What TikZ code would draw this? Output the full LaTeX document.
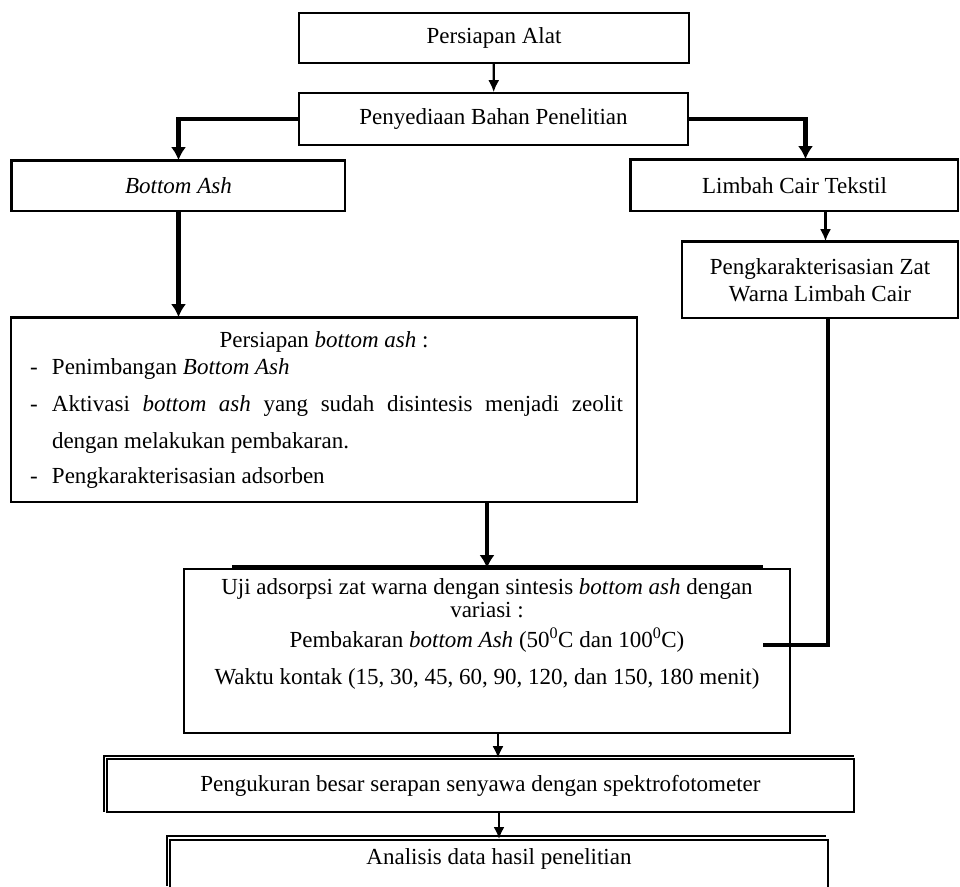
\documentclass[tikz,border=0pt]{standalone}
\usepackage{fontspec}
\setmainfont{Liberation Serif}
\usetikzlibrary{arrows.meta}

\begin{document}
\begin{tikzpicture}[x=1pt,y=-1pt,
  font=\fontsize{23}{27}\selectfont,
  box/.style={draw,line width=1.6pt,inner sep=0pt,align=center},
  arr/.style={-{Latex[length=12pt,width=11pt]},line width=2.2pt},
  fatarr/.style={-{Latex[length=13pt,width=15pt]},line width=4.2pt},
  rim/.style={line width=1.2pt}]
  \useasboundingbox (0,0) rectangle (960,886);
  \clip (0,0) rectangle (960,886);

  % Persiapan dan bahan
  \node[box,minimum width=390pt,minimum height=50pt] (alat) at (494,38)
    {Persiapan Alat};
  \node[box,minimum width=389pt,minimum height=52pt] (bahan) at (493.5,119)
    {Penyediaan Bahan Penelitian};
  \node[box,minimum width=333pt,minimum height=50pt] (ash) at (178.5,186)
    {\textit{Bottom Ash}};
  \node[box,minimum width=327pt,minimum height=51pt] (limbah) at (794.5,185.5)
    {Limbah Cair Tekstil};
  \node[box,minimum width=276pt,minimum height=76pt] (karakter) at (820,280)
    {Pengkarakterisasian Zat\\Warna Limbah Cair};

  % Persiapan bottom ash
  \node[box,minimum width=626pt,minimum height=184pt,align=left] (persiapan)
    at (324,410) {%
    \makebox[622pt]{Persiapan \textit{bottom ash} :}\\
    \hspace*{17pt}\makebox[22pt][l]{-}Penimbangan \textit{Bottom Ash}\\[10pt]
    \hspace*{17pt}\makebox[22pt][l]{-}\makebox[571pt][s]{Aktivasi
      \textit{bottom ash} yang sudah disintesis menjadi zeolit}\\[10pt]
    \hspace*{39pt}dengan melakukan pembakaran.\\[8pt]
    \hspace*{17pt}\makebox[22pt][l]{-}Pengkarakterisasian adsorben};

  % Uji adsorpsi
  \node[box,minimum width=606pt,minimum height=164pt] (uji) at (487,651)
    {Uji adsorpsi zat warna dengan sintesis \textit{bottom ash} dengan\\[-4pt]
     variasi :\\[3pt]
     Pembakaran \textit{bottom Ash} (50\textsuperscript{0}C dan
     100\textsuperscript{0}C)\\[10pt]
     Waktu kontak (15, 30, 45, 60, 90, 120, dan 150, 180 menit)\\[11pt]\mbox{}};
  \coordinate (masuk) at (763,645);

  % Pengukuran dan analisis
  \node[box,minimum width=747pt,minimum height=53pt] (ukur) at (480.5,785.5)
    {Pengukuran besar serapan senyawa dengan spektrofotometer};
  \node[box,anchor=north,minimum width=658pt,minimum height=70pt] (analisis)
    at (499,839) {Analisis data hasil penelitian\\[10pt]\mbox{}};

  % tepi ganda
  \draw[line width=3pt] (ash.south west) |- (ash.north east);
  \draw[line width=3pt] (limbah.south west) |- (limbah.north east);
  \draw[line width=2.6pt] (karakter.north west) -- (karakter.north east);
  \draw[line width=2.6pt] (persiapan.north west) -- (persiapan.north east);
  \draw[line width=3pt] (232,566) -- (763,566);
  \draw[rim] (104,812) |- (854,756);
  \draw[rim] (167,886) |- (826,836);

  % alur
  \draw[arr] (alat) -- (bahan);
  \draw[fatarr] (bahan.west) -| (ash.north);
  \draw[fatarr] (bahan.east) -| ([xshift=11pt]limbah.north);
  \draw[arr] ([xshift=31pt]limbah.south) -- ([xshift=31pt]limbah.south |- karakter.north);
  \draw[fatarr] (ash.south) -- (ash.south |- persiapan.north);
  \draw[fatarr] (uji.north |- persiapan.south) -- (uji.north);
  \draw[line width=4.2pt] ([xshift=8pt]karakter.south) |- (masuk);
  \draw[arr] ([xshift=11pt]uji.south) -- ([xshift=11pt]uji.south |- ukur.north);
  \draw[arr] (analisis.north |- ukur.south) -- (analisis.north);
\end{tikzpicture}
\end{document}
